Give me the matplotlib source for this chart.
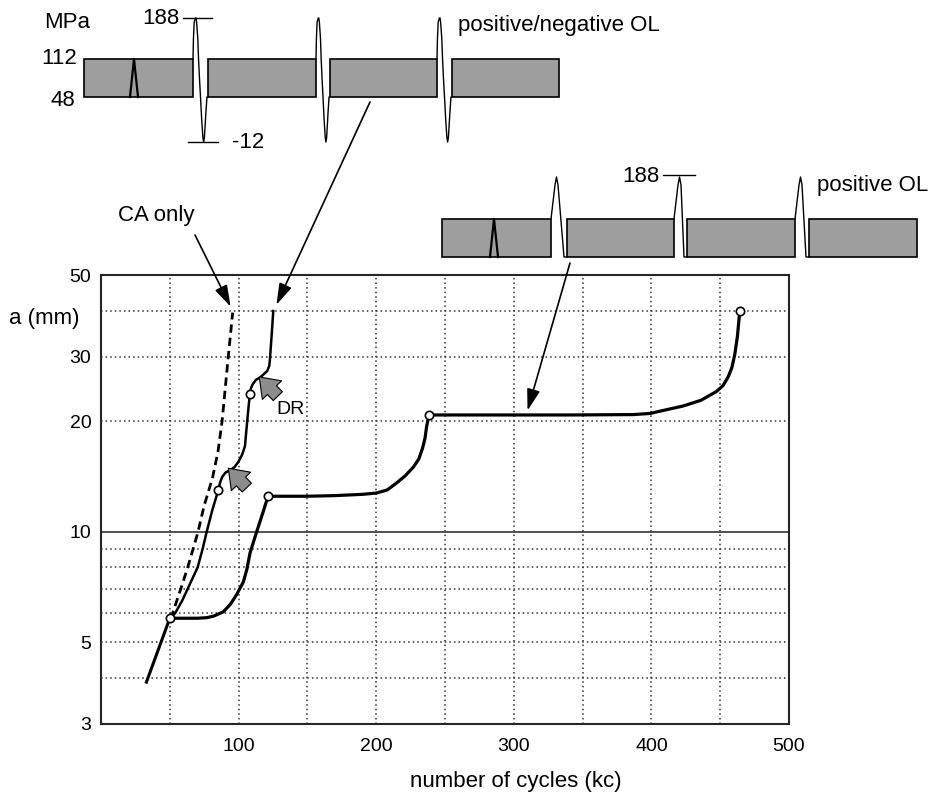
import matplotlib
matplotlib.use("Agg")
import matplotlib.pyplot as plt
from matplotlib.patches import Rectangle
from matplotlib.ticker import NullLocator

plt.rcParams['font.family'] = ['Liberation Sans', 'DejaVu Sans']

# crack length a (mm) vs number of cycles (kc)
pre_x = [33, 50]
pre_a = [3.9, 5.82]

ca_x = [50, 52, 58, 63, 67, 70.5, 75, 81, 85, 88, 92.5, 95.7]
ca_a = [5.82, 6.0, 7.0, 8.0, 9.0, 10.0, 11.8, 14.0, 16.5, 20, 30, 39.5]

pn_x = [50, 53.8, 59, 63, 70.2, 73.9, 76.8, 81, 85.3, 86.5, 88, 90.5, 93.7, 97, 99.8,
        102.5, 104.6, 106.3, 107.3, 108.2, 109, 110.2, 112.5, 115.5, 118, 120.8, 122.3,
        122.8, 124, 125.2]
pn_a = [5.82, 6.0, 6.5, 7.0, 8.0, 9.0, 10.0, 11.5, 13.0, 13.6, 14.1, 14.5, 14.7, 15.0, 15.5,
        16.2, 17.1, 20.1, 22, 23.7, 24.6, 25.2, 25.9, 26.3, 26.8, 27.4, 28.3,
        29.6, 34.2, 39.9]
pn_marks_x = [85.3, 108.2]
pn_marks_a = [13.0, 23.7]

po_x = [50, 60, 70, 76.8, 82, 88.9, 94, 98.6, 103.4, 106, 108.3, 113.1, 117.4, 121.4,
        135, 150, 170, 190, 200, 208, 215, 221, 227, 231, 233.7, 235.5, 236.6, 238.4,
        260, 300, 340, 386.7, 399, 411, 423, 436, 447.3, 452, 455.8, 458.5, 460.6, 462.5, 464.2]
po_a = [5.82, 5.82, 5.82, 5.84, 5.9, 6.06, 6.35, 6.75, 7.3, 7.9, 8.76, 10.0, 11.2, 12.5,
        12.5, 12.5, 12.55, 12.65, 12.75, 13.0, 13.6, 14.2, 15.0, 15.8, 16.9, 18.0, 19.3, 20.8,
        20.8, 20.8, 20.8, 20.85, 21.0, 21.5, 22.0, 22.8, 24.1, 25.0, 26.4, 28.0, 30.4, 34.0, 39.8]
po_marks_x = [121.4, 238.4, 464.2]
po_marks_a = [12.5, 20.8, 39.8]

x_ticks = [100, 200, 300, 400, 500]
y_ticks = [3, 5, 10, 20, 30, 50]
x_grid = [50, 100, 150, 200, 250, 300, 350, 400, 450]
y_grid = [4, 5, 6, 7, 8, 9, 20, 30, 40]

fig = plt.figure(figsize=(9.4, 7.96), dpi=100)
ax = fig.add_axes([101 / 940, 1 - 724 / 796, 688 / 940, 449 / 796])
# overlay in figure pixels for the load-sequence sketches
ov = fig.add_axes([0, 0, 1, 1], zorder=-1)
ov.set_xlim(0, 940)
ov.set_ylim(796, 0)
ov.axis('off')

ax.set_yscale('log')
ax.set_xlim(0, 500)
ax.set_ylim(3, 50)
ax.set_xticks(x_ticks)
ax.set_xticklabels([str(v) for v in x_ticks], fontsize=14)
ax.set_yticks(y_ticks)
ax.set_yticklabels([str(v) for v in y_ticks], fontsize=14)
ax.yaxis.set_minor_locator(NullLocator())
ax.tick_params(length=0)
ax.tick_params(axis='x', pad=10)
ax.tick_params(axis='y', pad=7)
for s in ax.spines.values():
    s.set_linewidth(1.5)
    s.set_color('0.15')

for v in x_grid:
    ax.axvline(v, color='0.2', lw=1.1, ls=(0, (1, 2)), zorder=1)
for v in y_grid:
    ax.axhline(v, color='0.2', lw=1.1, ls=(0, (1, 2)), zorder=1)
ax.axhline(10, color='0.2', lw=1.2, zorder=1)

ax.plot(pre_x, pre_a, color='k', lw=2.2, zorder=3)
ax.plot(ca_x, ca_a, color='k', lw=2.0, ls=(0, (3, 1.8)), zorder=3)
ax.plot(pn_x, pn_a, color='k', lw=1.8, zorder=3)
ax.plot(po_x, po_a, color='k', lw=2.3, zorder=3)
mk = dict(ls='none', marker='o', ms=6, mfc='white', mec='k', mew=1.2, zorder=4)
ax.plot([pre_x[-1]], [pre_a[-1]], **mk)
ax.plot(pn_marks_x, pn_marks_a, **mk)
ax.plot(po_marks_x, po_marks_a, **mk)

ax.set_xlabel('number of cycles (kc)', fontsize=16, va='center')
ax.xaxis.set_label_coords(0.603, -0.128)
ax.set_ylabel('a (mm)', fontsize=16, rotation=0, va='center', ha='center')
ax.yaxis.set_label_coords(-0.083, 0.904)

# DR arrows
dr = dict(arrowstyle='simple,head_length=0.55,head_width=0.8,tail_width=0.38',
          fc='#8c8c8c', ec='k', lw=0.8, mutation_scale=24, shrinkA=0, shrinkB=0)
ax.annotate('', xy=(115.0, 26.4), xytext=(128.5, 23.4), arrowprops=dr, zorder=5)
ax.annotate('', xy=(92.5, 14.9), xytext=(106.0, 13.2), arrowprops=dr, zorder=5)
ax.text(290, 410, 'DR', transform=ov.transData, fontsize=14, ha='center', va='center')

# pointer arrows
pa = dict(arrowstyle='-|>,head_length=1.3,head_width=0.4', color='k', lw=1.2,
          shrinkA=0, shrinkB=0)
ax.annotate('', xy=(94.2, 41), xytext=(195, 235), textcoords=ov.transData, arrowprops=pa)
ax.annotate('', xy=(127.5, 41.5), xytext=(370, 102), textcoords=ov.transData, arrowprops=pa)
ax.annotate('', xy=(310, 21.4), xytext=(570, 263), textcoords=ov.transData, arrowprops=pa)
ov.text(118, 215, 'CA only', fontsize=16, ha='left', va='center')

# lobe shapes of the overload cycles (offsets in px, fraction of block gap)
up_dx = [0, 0.03, 0.08, 0.16, 0.2, 0.24, 0.32, 0.37, 0.43]
up_dy = [0, -0.5, -0.9, -1.0, -1.0, -0.9, -0.5, 0, 0.5]
dn_dx = [0.43, 0.5, 0.58, 0.66, 0.71, 0.76, 0.85, 0.93, 1.0]
dn_dy = [0.5, 1.0, 1.5, 1.9, 2.0, 1.9, 1.4, 1.0, 1.0]


def sketch(blocks, top, bot, peak, valley, mark_x):
    for x0, x1 in blocks:
        ov.add_patch(Rectangle((x0, top), x1 - x0, bot - top, fc='#9e9e9e', ec='k', lw=1.2))
    ov.plot([mark_x - 4, mark_x, mark_x + 4], [bot, top, bot], color='k', lw=1.6)
    for (a0, a1), (b0, b1) in zip(blocks[:-1], blocks[1:]):
        w = b0 - a1
        if valley is None:
            ov.plot([a1, a1 + 4, a1 + 5.5, a1 + 7, b0 - 3, b0],
                    [top, peak + 8, peak, peak + 8, bot, bot], color='k', lw=1.0)
        else:
            xs, ys = [], []
            for dx, dy in zip(up_dx + dn_dx, up_dy + dn_dy):
                xs.append(a1 + dx * w)
                if dy <= 0:
                    ys.append(top + dy * (top - peak))
                elif dy <= 1:
                    ys.append(top + dy * (bot - top))
                else:
                    ys.append(bot + (dy - 1) * (valley - bot))
            ov.plot(xs, ys, color='k', lw=1.0)


# positive/negative OL sequence
sketch([(84, 193), (208, 316), (330, 437), (452, 559)], 59, 97, 18, 142, 134)
ov.plot([183, 212], [18, 18], color='k', lw=1.0)
ov.plot([188, 218], [142, 142], color='k', lw=1.0)
ov.text(67, 22, 'MPa', fontsize=16, ha='center', va='center')
ov.text(180, 18, '188', fontsize=16, ha='right', va='center')
ov.text(77, 58, '112', fontsize=16, ha='right', va='center')
ov.text(75, 100, '48', fontsize=16, ha='right', va='center')
ov.text(232, 143, '-12', fontsize=16, ha='left', va='center')
ov.text(458, 25, 'positive/negative OL', fontsize=16, ha='left', va='center')

# positive OL sequence
sketch([(442, 551), (567, 674), (687, 795), (809, 917)], 219, 257, 177, None, 494)
ov.plot([663, 695], [175, 175], color='k', lw=1.0)
ov.text(660, 176, '188', fontsize=16, ha='right', va='center')
ov.text(817, 185, 'positive OL', fontsize=16, ha='left', va='center')

fig.savefig('out.png', dpi=100)
